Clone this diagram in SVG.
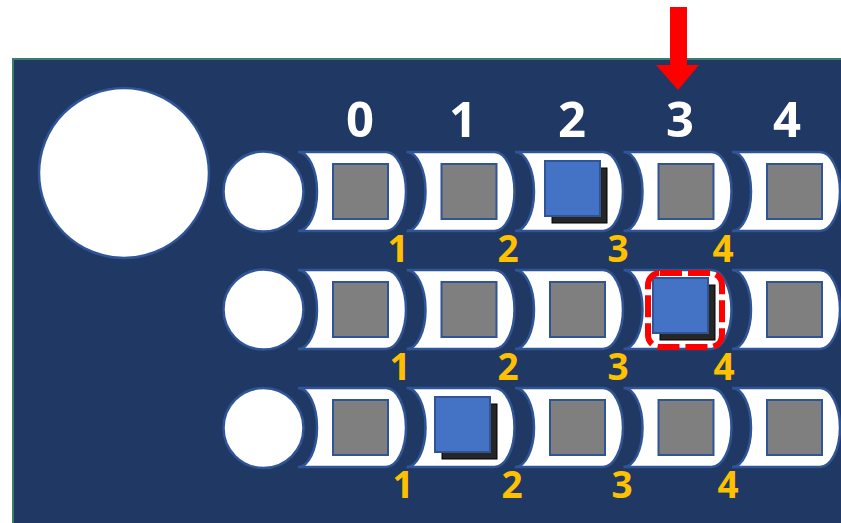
<svg xmlns="http://www.w3.org/2000/svg" width="841" height="523" viewBox="0 0 841 523">
<style>
.panel{fill:#203864;stroke:#3b7d6b;stroke-width:2}
.circ{fill:#fff;stroke:#2f5597;stroke-width:2.5}
.cell{fill:#fff;stroke:#2f5597;stroke-width:2.5}
.grey{fill:#7f7f7f;stroke:#2f5597;stroke-width:2}
.blue{fill:#4472c4;stroke:#2f5597;stroke-width:2}
.shadow{fill:#262626;stroke:#000;stroke-width:1}
.col{font-family:"Noto Sans","Liberation Sans",sans-serif;font-weight:bold;font-size:49px;fill:#fff;text-anchor:middle}
.idx{font-family:"Noto Sans","Liberation Sans",sans-serif;font-weight:bold;font-size:37px;fill:#ffc000;text-anchor:middle}
.sel{fill:none;stroke:#ff0000;stroke-width:6;stroke-dasharray:22 6}
</style>
<defs>
<path id="cellShape" class="cell" d="M0,0 H88 A20,39.5 0 0 1 88,79 H0 A19,39.5 0 0 0 0,0 Z"/>
<rect id="greySq" class="grey" x="35" y="12" width="55" height="55"/>
</defs>
<rect class="panel" x="13" y="59" width="840" height="480"/>
<g id="big-circle"><circle class="circ" cx="124" cy="173" r="85"/></g>
<g id="column-labels">
<text class="col" x="360" y="137">0</text>
<text class="col" x="463" y="137">1</text>
<text class="col" x="572" y="137">2</text>
<text class="col" x="680" y="137">3</text>
<text class="col" x="787" y="137">4</text>
</g>
<g id="row1">
<circle class="circ" cx="263.5" cy="191.5" r="40"/>
<g id="r1c0" transform="translate(298,152)"><use href="#cellShape"/><use href="#greySq"/></g>
<g id="r1c1" transform="translate(406.5,152)"><use href="#cellShape"/><use href="#greySq"/></g>
<g id="r1c2" transform="translate(515,152)"><use href="#cellShape"/></g>
<g id="r1c3" transform="translate(623.5,152)"><use href="#cellShape"/><use href="#greySq"/></g>
<g id="r1c4" transform="translate(732,152)"><use href="#cellShape"/><use href="#greySq"/></g>
<g id="r1-token"><rect class="shadow" x="552" y="168" width="55" height="55"/><rect class="blue" x="545" y="161" width="55" height="55"/></g>
<text class="idx" x="398" y="262">1</text>
<text class="idx" x="508" y="262">2</text>
<text class="idx" x="618" y="262">3</text>
<text class="idx" x="723" y="262">4</text>
</g>
<g id="row2">
<circle class="circ" cx="263.5" cy="309.5" r="40"/>
<g id="r2c0" transform="translate(298,270)"><use href="#cellShape"/><use href="#greySq"/></g>
<g id="r2c1" transform="translate(406.5,270)"><use href="#cellShape"/><use href="#greySq"/></g>
<g id="r2c2" transform="translate(515,270)"><use href="#cellShape"/><use href="#greySq"/></g>
<g id="r2c3" transform="translate(623.5,270)"><use href="#cellShape"/></g>
<g id="r2c4" transform="translate(732,270)"><use href="#cellShape"/><use href="#greySq"/></g>
<g id="r2-token"><rect class="shadow" x="660" y="285" width="55" height="55"/><rect class="blue" x="653" y="278" width="55" height="55"/></g>
<rect id="r2-selection" class="sel" x="648" y="273" width="74" height="74" rx="12"/>
<text class="idx" x="400" y="380">1</text>
<text class="idx" x="508" y="380">2</text>
<text class="idx" x="618" y="380">3</text>
<text class="idx" x="724" y="380">4</text>
</g>
<g id="row3">
<circle class="circ" cx="263.5" cy="428" r="40"/>
<g id="r3c0" transform="translate(298,388)"><use href="#cellShape"/><use href="#greySq"/></g>
<g id="r3c1" transform="translate(406.5,388)"><use href="#cellShape"/></g>
<g id="r3c2" transform="translate(515,388)"><use href="#cellShape"/><use href="#greySq"/></g>
<g id="r3c3" transform="translate(623.5,388)"><use href="#cellShape"/><use href="#greySq"/></g>
<g id="r3c4" transform="translate(732,388)"><use href="#cellShape"/><use href="#greySq"/></g>
<g id="r3-token"><rect class="shadow" x="442" y="404" width="55" height="55"/><rect class="blue" x="435" y="397" width="55" height="55"/></g>
<text class="idx" x="403" y="498">1</text>
<text class="idx" x="512" y="498">2</text>
<text class="idx" x="622" y="498">3</text>
<text class="idx" x="728" y="498">4</text>
</g>
<g id="connectors">
<path id="pointer-arrow" fill="#ff0000" d="M670,7 H687 V65 H699 L678,90 L656,65 H670 Z"/>
</g>
</svg>
